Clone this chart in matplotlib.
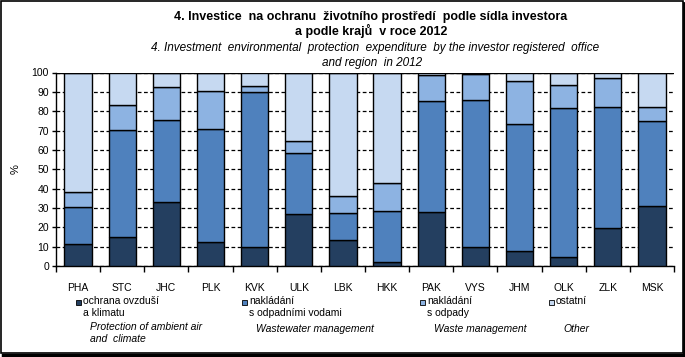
import numpy as np
import matplotlib.pyplot as plt
from matplotlib.patches import Rectangle

plt.rcParams['font.family'] = ['Liberation Sans', 'DejaVu Sans']

kraje = ['PHA', 'STC', 'JHC', 'PLK', 'KVK', 'ULK', 'LBK', 'HKK', 'PAK', 'VYS', 'JHM', 'OLK', 'ZLK', 'MSK']

# podily v % (odhad z grafu)
ovzdusi = [11.2, 14.8, 32.9, 12.2, 9.7, 26.7, 13.3, 1.9, 27.8, 9.7, 7.6, 4.5, 19.5, 30.9]
vody = [19.1, 55.4, 42.4, 58.5, 80.1, 31.6, 13.9, 26.4, 57.4, 76.0, 65.7, 77.1, 62.6, 43.9]
odpady = [8.1, 12.9, 17.1, 19.6, 3.3, 6.4, 8.8, 14.5, 13.4, 13.4, 22.2, 11.8, 15.0, 7.3]
ostatni = list(100 - np.array(ovzdusi) - np.array(vody) - np.array(odpady))

barvy = ['#243F60', '#4F81BD', '#8DB3E2', '#C6D9F1']

W, H = 685, 357
fig = plt.figure(figsize=(W / 100, H / 100), dpi=100)

L, R, T, B = 56, 674, 72.5, 266
ax = fig.add_axes([L / W, 1 - B / H, (R - L) / W, (B - T) / H])

x = np.arange(len(kraje))
dno = np.zeros(len(kraje))
for serie, barva in zip([ovzdusi, vody, odpady, ostatni], barvy):
    ax.bar(x, serie, bottom=dno, width=0.62, color=barva, edgecolor='black', linewidth=1, zorder=3)
    dno += np.array(serie)

ax.set_xlim(-0.5, len(kraje) - 0.5)
ax.set_ylim(0, 100)
ax.set_yticks(range(0, 101, 10))
ax.tick_params(axis='y', labelsize=7.5, length=3, width=1, pad=2)
ax.set_xticks(np.arange(-0.5, len(kraje), 1))
ax.set_xticklabels([])
ax.tick_params(axis='x', length=4, width=1)
ax.set_xticks(x, minor=True)
ax.set_xticklabels(kraje, minor=True, fontsize=7.5)
ax.tick_params(axis='x', which='minor', length=0, pad=12)

ax.yaxis.grid(True, color='black', linestyle=(0, (3, 2)), linewidth=0.9, zorder=0)
ax.spines['right'].set_visible(False)
ax.spines['top'].set_visible(False)
ax.axhline(100, color='black', linewidth=1, zorder=4)
for s in ['left', 'bottom']:
    ax.spines[s].set_linewidth(1)
ax.set_ylabel('%', fontsize=8, labelpad=8)

# nadpis
fig.text(371 / W, 1 - 17 / H, '4. Investice  na ochranu  životního prostředí  podle sídla investora',
         ha='center', va='center', fontsize=9, fontweight='bold')
fig.text(371 / W, 1 - 31 / H, 'a podle krajů  v roce 2012',
         ha='center', va='center', fontsize=9, fontweight='bold')
fig.text(375 / W, 1 - 48 / H, '4. Investment  environmental  protection  expenditure  by the investor registered  office',
         ha='center', va='center', fontsize=8.5, style='italic')
fig.text(372 / W, 1 - 63 / H, 'and region  in 2012',
         ha='center', va='center', fontsize=8.5, style='italic')

# legenda
cz = ['ochrana ovzduší\na klimatu', 'nakládání\ns odpadními vodami', 'nakládání\ns odpady', 'ostatní']
en = ['Protection of ambient air\nand  climate', 'Wastewater management', 'Waste management', 'Other']
mx = [76, 242, 420, 549]
for i in range(4):
    fig.patches.append(Rectangle((mx[i] / W, 1 - 305 / H), 5 / W, 5 / H, transform=fig.transFigure,
                                 facecolor=barvy[i], edgecolor='black', linewidth=0.6))
    fig.text((mx[i] + 7) / W, 1 - 296 / H, cz[i], ha='left', va='top', fontsize=7.5, linespacing=1.25)
    ey = 333 if '\n' in en[i] else 329
    fig.text((mx[i] + 14) / W, 1 - ey / H, en[i], ha='left', va='center', fontsize=7.5,
             style='italic', linespacing=1.25)

# ramecek
fig.patches.append(Rectangle((1 / W, 1 - 353 / H), 682 / W, 352 / H, transform=fig.transFigure,
                             fill=False, edgecolor='black', linewidth=1.2))
fig.add_artist(plt.Line2D([683.5 / W, 683.5 / W], [1 - 355 / H, 1 - 3 / H], color='black', linewidth=2))
fig.add_artist(plt.Line2D([3 / W, 684 / W], [1 - 354.5 / H, 1 - 354.5 / H], color='black', linewidth=2.5))

fig.savefig('out.png', dpi=100)
